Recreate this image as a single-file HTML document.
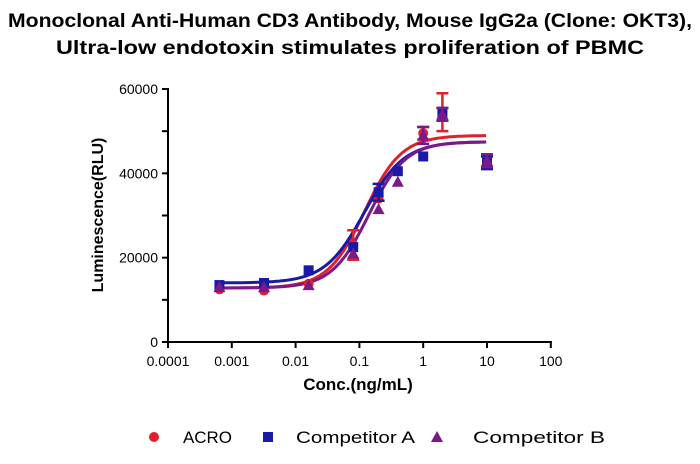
<!DOCTYPE html>
<html><head><meta charset="utf-8"><style>
body{margin:0;background:#fff;}
svg text{font-family:"Liberation Sans",sans-serif;}
</style></head><body>
<svg id="s" width="700" height="459" xmlns="http://www.w3.org/2000/svg">
<text x="350" y="27" text-anchor="middle" font-size="19" font-weight="bold" textLength="684" lengthAdjust="spacingAndGlyphs">Monoclonal Anti-Human CD3 Antibody, Mouse IgG2a (Clone: OKT3),</text>
<text x="350" y="54" text-anchor="middle" font-size="19" font-weight="bold" textLength="588" lengthAdjust="spacingAndGlyphs">Ultra-low endotoxin stimulates proliferation of PBMC</text>
<g stroke="#000" stroke-width="2" fill="none">
<line x1="168" y1="88" x2="168" y2="343"/>
<line x1="167" y1="342" x2="552" y2="342"/>
</g>
<g id="ticks" stroke="#000" stroke-width="2"></g>
<g id="lbl" font-size="14"></g>
<text transform="translate(103,215) rotate(-90)" text-anchor="middle" font-size="16" font-weight="bold">Luminescence(RLU)</text>
<text x="358" y="390" text-anchor="middle" font-size="17" font-weight="bold">Conc.(ng/mL)</text>
<g id="data"></g>
<g font-size="17">
<circle cx="154" cy="437" r="5" fill="#e0202a"/><text x="183" y="443" textLength="49" lengthAdjust="spacingAndGlyphs">ACRO</text>
<rect x="263" y="432" width="10" height="10" fill="#1a1aa8"/><text x="296" y="443" textLength="119" lengthAdjust="spacingAndGlyphs">Competitor A</text>
<polygon points="437,431 443,442 431,442" fill="#7a1a8a"/><text x="473" y="443" textLength="132" lengthAdjust="spacingAndGlyphs">Competitor B</text>
</g>
</svg>
<script>
var X0=168,D=63.8,Y0=342,K=253/60000,ns="http://www.w3.org/2000/svg";
function X(c){return X0+D*(Math.log10(c)+4);}
function Y(v){return Y0-v*K;}
function el(t,a,p){var e=document.createElementNS(ns,t);for(var k in a)e.setAttribute(k,a[k]);(p||document.getElementById('data')).appendChild(e);return e;}
var T=document.getElementById('ticks'),L=document.getElementById('lbl');
var xl=["0.0001","0.001","0.01","0.1","1","10","100"];
for(var i=0;i<7;i++){var x=X0+D*i;el('line',{x1:x,y1:342,x2:x,y2:348},T);var t=el('text',{x:x,y:366,'text-anchor':'middle'},L);t.textContent=xl[i];}
for(var i=0;i<=6;i++){var y=Y(i*10000);el('line',{x1:162,y1:y,x2:168,y2:y},T);if(i%2==0){var t=el('text',{x:158,y:y+5,'text-anchor':'end'},L);t.textContent=i*10000;}}
var cs=[0.00064,0.0032,0.016,0.08,0.2,0.4,1,2,10];
var S=[
{c:"#e0202a",b:12800,t:49000,ec:0.12,h:1.5,v:[12500,12200,13800,23000,34000,40500,49500,54500,43000],e:[0,0,0,3500,0,0,1500,4500,1500],m:'c'},
{c:"#1a1aa8",b:14000,t:47500,ec:0.12,h:1.4,v:[13500,14000,17000,22500,35500,40500,44000,54000,42500],e:[0,0,0,0,2000,0,0,1500,1500],m:'s'},
{c:"#7a1a8a",b:12800,t:47500,ec:0.14,h:1.5,v:[13000,13000,13500,21000,31500,38000,49000,54000,43000],e:[0,0,0,0,0,0,2000,1500,1500],m:'t'}];
S.forEach(function(s){
 var d="";for(var lx=Math.log10(0.00064);lx<=1.0001;lx+=0.02){var c=Math.pow(10,lx);var v=s.b+(s.t-s.b)/(1+Math.pow(s.ec/c,s.h));d+=(d?"L":"M")+X(c).toFixed(1)+","+Y(v).toFixed(1);}
 el('path',{d:d,stroke:s.c,'stroke-width':3,fill:'none'});
});
S.forEach(function(s){
 cs.forEach(function(c,i){var x=X(c),y=Y(s.v[i]);
  if(s.e[i]){var y1=Y(s.v[i]+s.e[i]),y2=Y(s.v[i]-s.e[i]);el('path',{d:"M"+x+","+y1+"V"+y2+"M"+(x-6)+","+y1+"H"+(x+6)+"M"+(x-6)+","+y2+"H"+(x+6),stroke:s.c,'stroke-width':2.5,fill:'none'});}
  if(s.m=='c')el('circle',{cx:x,cy:y,r:5,fill:s.c});
  else if(s.m=='s')el('rect',{x:x-5,y:y-5,width:10,height:10,fill:s.c});
  else el('polygon',{points:x+","+(y-6)+" "+(x+6)+","+(y+5)+" "+(x-6)+","+(y+5),fill:s.c});
 });
});
</script>
</body></html>
